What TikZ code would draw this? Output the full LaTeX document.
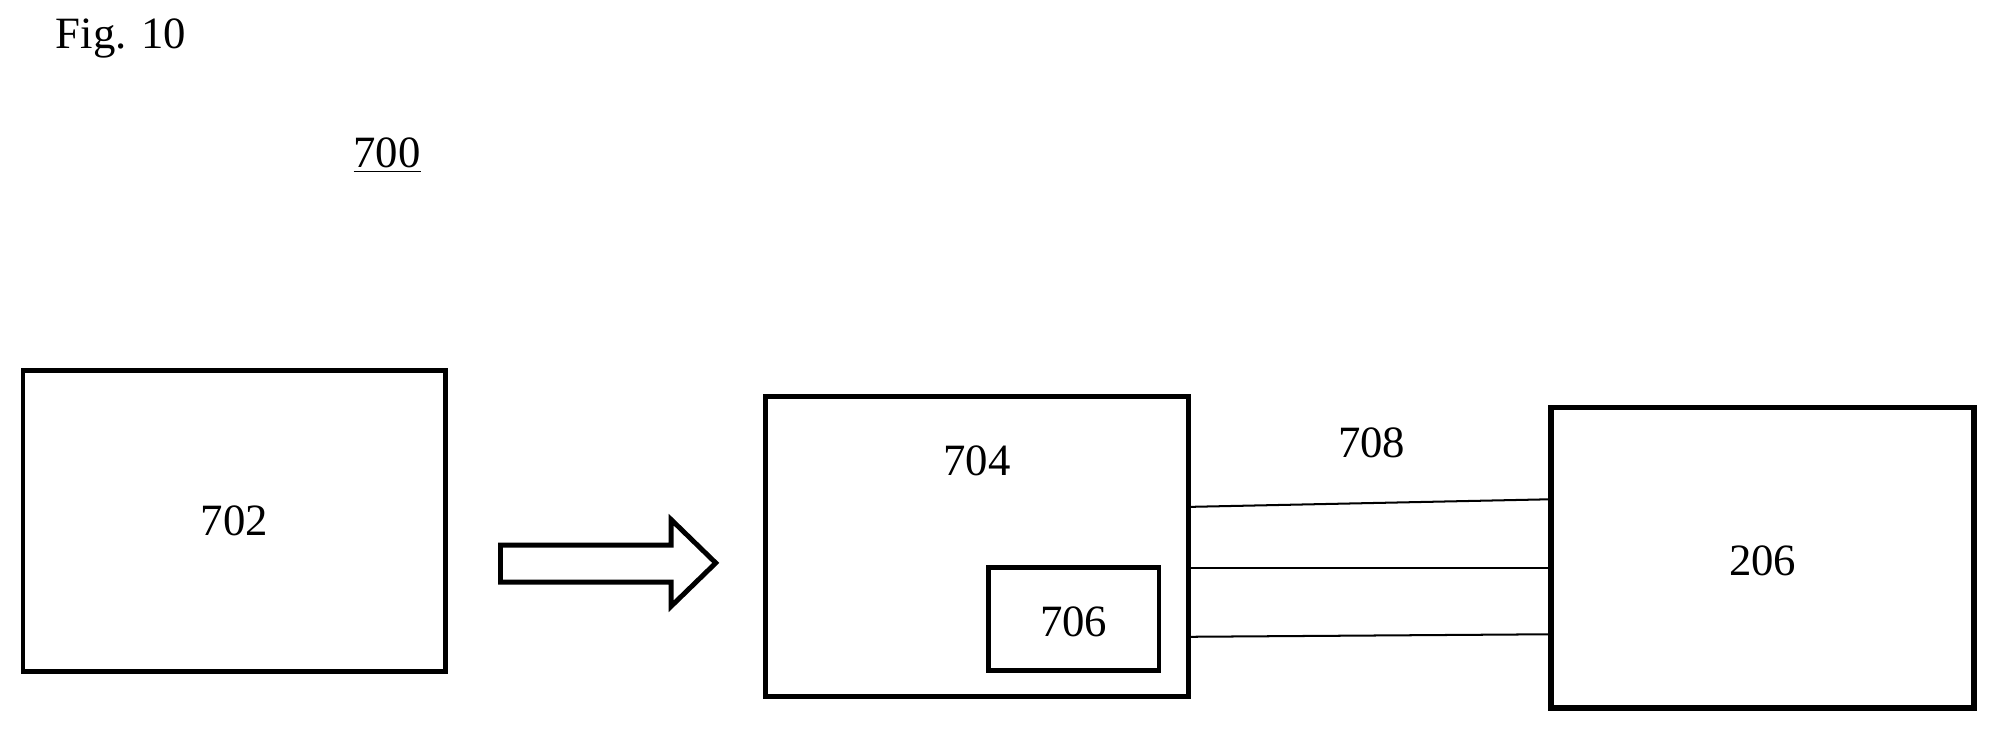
\documentclass[tikz,border=0pt]{standalone}
\usepackage{fontspec}
\setmainfont{Liberation Serif}
\usetikzlibrary{positioning}

\begin{document}
\begin{tikzpicture}[x=0.02cm,y=-0.02cm,
    box/.style={draw,line width=2.2pt,minimum width=6.64cm,minimum height=4.72cm,inner sep=0pt},
    lbl/.style={font=\fontsize{20}{24}\selectfont}]
    \useasboundingbox (0,0) rectangle (1568,575);

    \node[lbl] (fig) at (95,30) {Fig. 10};
    \node[lbl] (num) at (304,122) {\underline{700}};

    \node[box] (A) at (184,409) {};
    \node[lbl] at (A) {702};
    \node[box] (B) at (767,429) {};
    \node[lbl] at (767,362) {704};
    \node[draw,line width=2.2pt,minimum width=2.68cm,minimum height=1.62cm,inner sep=0pt] (C) at (843,486) {};
    \node[lbl] at (843,488) {706};
    \node[box,line width=2.6pt] (D) at (1384,438) {};
    \node[lbl] at (1384,440) {206};
    \node[lbl] (L) at (1077,348) {708};

    % block arrow
    \draw[line width=2.2pt] (393,428) -- (527,428) -- (527,408) -- (562,442)
        -- (527,476) -- (527,457) -- (393,457) -- cycle;

    \coordinate (b1) at (933,398);
    \coordinate (b2) at (933,446);
    \coordinate (b3) at (933,500);
    \coordinate (d1) at (1218,392);
    \coordinate (d2) at (1218,446);
    \coordinate (d3) at (1218,498);
    \draw[line width=0.9pt] (b1) -- (d1);
    \draw[line width=0.9pt] (b2) -- (d2);
    \draw[line width=0.9pt] (b3) -- (d3);
\end{tikzpicture}
\end{document}
